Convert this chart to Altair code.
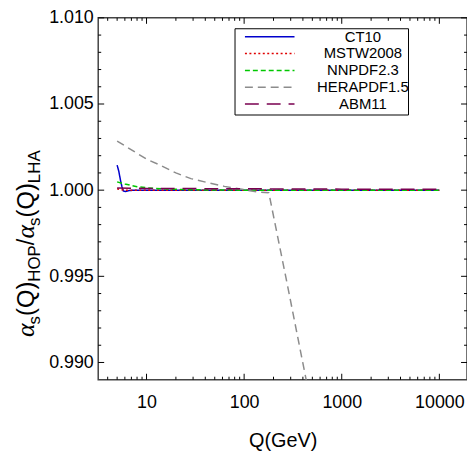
import altair as alt
import pandas as pd

W, H = 372, 365
FONT = "Liberation Sans"

series = ["CT10", "MSTW2008", "NNPDF2.3", "HERAPDF1.5", "ABM11"]
colors = ["#0000cc", "#e00000", "#00c800", "#8c8c8c", "#7a0050"]
dashes = [[1, 0], [2, 2.5], [5, 3], [8, 5], [14, 8]]

ct10_q = [5.0, 5.2, 5.4, 5.6, 5.8, 6.1, 6.5, 7.5, 10, 100, 1000, 10000]
ct10_v = [1.00145, 1.0011, 1.0006, 1.0002, 0.99995, 0.99992, 0.99997, 1.0, 1.0, 1.0, 1.0, 1.0]
mstw_q = [5.0, 5.5, 6.0, 10, 100, 1000, 10000]
mstw_v = [1.00008, 1.00003, 1.0, 1.0, 1.0, 1.0, 1.0]
nnpdf_q = [5.0, 6.0, 8.0, 10, 15, 30, 100, 1000, 10000]
nnpdf_v = [1.00048, 1.00036, 1.0002, 1.00014, 1.00007, 1.00002, 1.0, 1.0, 1.0]
hera_q = [5.0, 10, 13.2, 20, 28.5, 45, 62.8, 100, 135, 179, 272, 432, 480]
hera_v = [1.00285, 1.0018, 1.0015, 1.0010, 1.00067, 1.0004, 1.00022, 1.00003,
          0.9999, 0.99985, 0.99475, 0.9890, 0.9875]
abm_q = [5.0, 10, 100, 1000, 10000]
abm_v = [1.00013, 1.0001, 1.00008, 1.00006, 1.00005]

major_x = [10, 100, 1000, 10000]
minor_x = [4, 5, 6, 7, 8, 9, 20, 30, 40, 50, 60, 70, 80, 90,
           200, 300, 400, 500, 600, 700, 800, 900,
           2000, 3000, 4000, 5000, 6000, 7000, 8000, 9000]
major_y = [0.990, 0.995, 1.000, 1.005, 1.010]
minor_y = [0.991, 0.992, 0.993, 0.994, 0.996, 0.997, 0.998, 0.999,
           1.001, 1.002, 1.003, 1.004, 1.006, 1.007, 1.008, 1.009]

rows = []
for name, qs, vs in [("CT10", ct10_q, ct10_v), ("MSTW2008", mstw_q, mstw_v),
                     ("NNPDF2.3", nnpdf_q, nnpdf_v), ("HERAPDF1.5", hera_q, hera_v),
                     ("ABM11", abm_q, abm_v)]:
    for q, v in zip(qs, vs):
        rows.append({"series": name, "Q": q, "v": v})
df = pd.DataFrame(rows)

xscale = alt.Scale(type="log", domain=[3.2, 19200], nice=False)
yscale = alt.Scale(domain=[0.989, 1.010], nice=False, zero=False)
color = alt.Color("series:N", scale=alt.Scale(domain=series, range=colors), legend=None)
dash = alt.StrokeDash("series:N", scale=alt.Scale(domain=series, range=dashes), legend=None)

lines = alt.Chart(df).mark_line(clip=True, strokeWidth=1.5).encode(
    x=alt.X("Q:Q", scale=xscale, axis=alt.Axis(
        values=major_x, format="d", title="Q(GeV)", ticks=False, domain=False, grid=False,
        labelFontSize=18, labelFont=FONT, labelColor="black", labelPadding=14,
        titleFontSize=20, titleFont=FONT, titleFontWeight="normal", titleColor="black",
        titlePadding=19)),
    y=alt.Y("v:Q", scale=yscale, axis=alt.Axis(
        values=major_y, format=".3f", title=None, ticks=False, domain=False, grid=False,
        labelFontSize=18, labelFont=FONT, labelColor="black", labelPadding=5)),
    color=color,
    strokeDash=dash,
)


def xticks(vals, length, top):
    d = pd.DataFrame({"q": vals})
    y0 = 0 if top else H
    y1 = length if top else H - length
    return alt.Chart(d).mark_rule(color="black", strokeWidth=1).encode(
        x=alt.X("q:Q", scale=xscale, axis=None), y=alt.value(y0), y2=alt.value(y1))


def yticks(vals, length, right):
    d = pd.DataFrame({"v": vals})
    x0 = W if right else 0
    x1 = W - length if right else length
    return alt.Chart(d).mark_rule(color="black", strokeWidth=1).encode(
        y=alt.Y("v:Q", scale=yscale, axis=None), x=alt.value(x0), x2=alt.value(x1))


ticks = [xticks(major_x, 6, False), xticks(minor_x, 3, False),
         xticks(major_x, 6, True), xticks(minor_x, 3, True),
         yticks(major_y, 6, False), yticks(minor_y, 3, False),
         yticks(major_y, 6, True), yticks(minor_y, 3, True)]

# legend
box = alt.Chart(pd.DataFrame({"a": [0]})).mark_rect(
    fill="white", stroke="black", strokeWidth=1).encode(
    x=alt.value(138), x2=alt.value(313), y=alt.value(11), y2=alt.value(98))
leg_df = pd.DataFrame({"series": series})
leg_y = alt.Y("series:N", sort=series,
              scale=alt.Scale(type="point", domain=series, range=[19, 87], padding=0),
              axis=None)
leg_rules = alt.Chart(leg_df).mark_rule(strokeWidth=1.5).encode(
    x=alt.value(148), x2=alt.value(198), y=leg_y, color=color, strokeDash=dash)
leg_text = alt.Chart(leg_df).mark_text(
    align="center", baseline="middle", fontSize=15, font=FONT, color="black").encode(
    x=alt.value(267), y=leg_y, text="series:N")

# rotated y title built from pieces (main text + subscripts)
F, S = 24, 17
SUB = 6
widths = {"(": .333, ")": .333, "Q": .778, "H": .722, "O": .778, "P": .667,
          "L": .556, "A": .667, "s": .5, "/": .278, "α": .53}
pieces = [("α", "greek"), ("s", "sub"), ("(Q)", "main"), ("HOP", "sub"), ("/", "main"),
          ("α", "greek"), ("s", "sub"), ("(Q)", "main"), ("LHA", "sub")]
y_start, x_base = 322, -65
cur = y_start
trows = []
for txt, kind in pieces:
    size = S if kind == "sub" else F
    trows.append({"t": txt, "kind": kind,
                  "px": x_base + (SUB if kind == "sub" else 0), "py": cur})
    cur -= sum(widths[c] for c in txt) * size
tdf = pd.DataFrame(trows)


def title_layer(kind, size, font, style):
    return alt.Chart(tdf).transform_filter(alt.datum.kind == kind).mark_text(
        angle=270, align="left", baseline="alphabetic", fontSize=size, font=font,
        fontStyle=style, color="black").encode(
        x=alt.X("px:Q", scale=None, axis=None), y=alt.Y("py:Q", scale=None, axis=None),
        text="t:N")


title_layers = [title_layer("greek", F + 2, "Liberation Serif", "italic"),
                title_layer("main", F, FONT, "normal"),
                title_layer("sub", S, FONT, "normal")]

chart = alt.layer(box, lines, *ticks, leg_rules, leg_text, *title_layers).resolve_scale(
    x="independent", y="independent").properties(
    width=W, height=H,
    autosize=alt.AutoSizeParams(type="none"),
    padding={"left": 91, "top": 8, "right": 0, "bottom": 72},
    background="white",
).configure_view(stroke="#444444", strokeWidth=1.5)

chart.save("out.html", embed_options={"renderer": "svg", "actions": False})
